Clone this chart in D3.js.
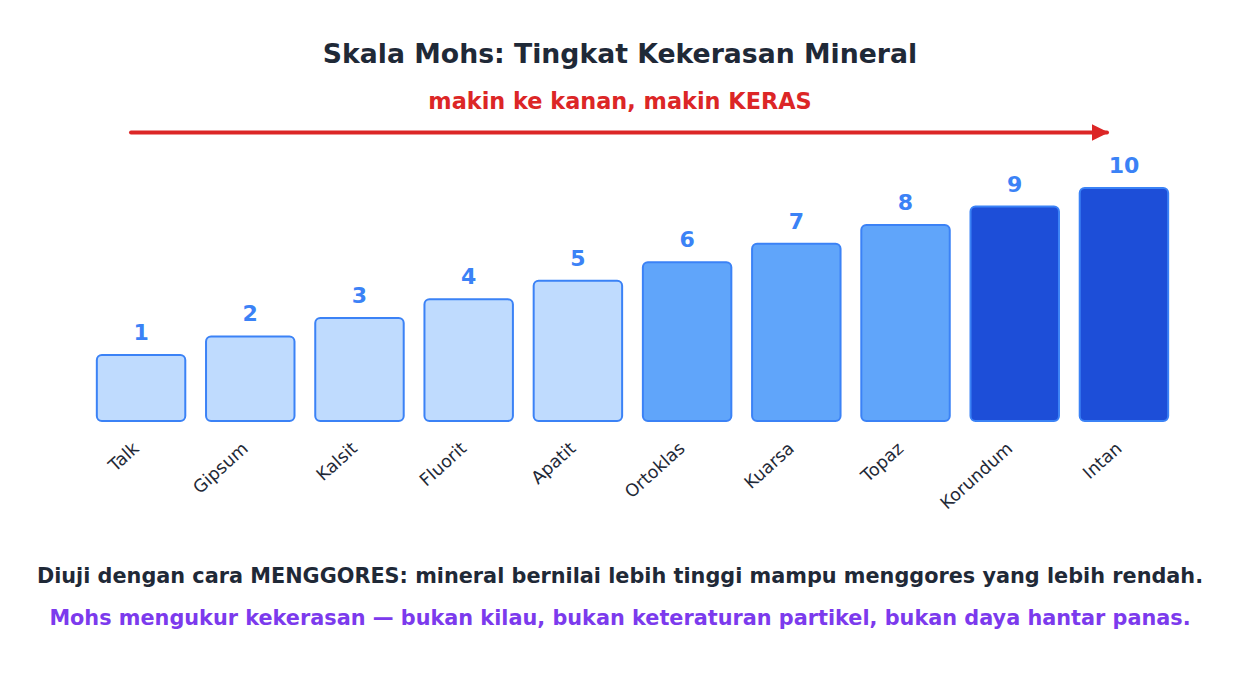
<!DOCTYPE html>
<html><head><meta charset="utf-8">
<script src="https://cdn.jsdelivr.net/npm/d3@7"></script>
<style>body{margin:0;background:#fff}svg{display:block}</style>
</head><body>
<svg id="c" width="1240" height="675"></svg>
<script>
const minerals = ["Talk","Gipsum","Kalsit","Fluorit","Apatit","Ortoklas","Kuarsa","Topaz","Korundum","Intan"];
const hardness = [1,2,3,4,5,6,7,8,9,10];
const tiers = ["soft","soft","soft","soft","soft","mid","mid","mid","hard","hard"];
const titleText = "Skala Mohs: Tingkat Kekerasan Mineral";
const subtitleText = "makin ke kanan, makin KERAS";
const note1 = "Diuji dengan cara MENGGORES: mineral bernilai lebih tinggi mampu menggores yang lebih rendah.";
const note2 = "Mohs mengukur kekerasan — bukan kilau, bukan keteraturan partikel, bukan daya hantar panas.";

const fills = {soft:"#bfdbfe", mid:"#60a5fa", hard:"#1d4ed8"};
const font = "'DejaVu Sans', sans-serif";
const svg = d3.select("#c");

const baseY = 421;
const x = d3.scaleBand().domain(minerals).range([87, 1178]).paddingInner(0.19).paddingOuter(0.09);
const y = d3.scaleLinear().domain([-2.556, 10]).range([baseY, 188]);

svg.append("text").attr("x",620).attr("y",63).attr("text-anchor","middle")
  .attr("font-family",font).attr("font-weight","bold").attr("font-size",26.7).attr("fill","#1f2937").text(titleText);
svg.append("text").attr("x",620).attr("y",109).attr("text-anchor","middle")
  .attr("font-family",font).attr("font-weight","bold").attr("font-size",22.4).attr("fill","#dc2626").text(subtitleText);

svg.append("defs").append("marker").attr("id","ah").attr("viewBox","0 0 10 10").attr("refX",9).attr("refY",5)
  .attr("markerWidth",4.2).attr("markerHeight",4.2).attr("markerUnits","strokeWidth").attr("orient","auto")
  .append("path").attr("d","M0,0 L10,5 L0,10 Z").attr("fill","#dc2626");
svg.append("line").attr("x1",131).attr("y1",132.5).attr("x2",1107).attr("y2",132.5)
  .attr("stroke","#dc2626").attr("stroke-width",4).attr("stroke-linecap","round").attr("marker-end","url(#ah)");

const g = svg.append("g");
g.selectAll("rect").data(hardness).join("rect")
  .attr("x",(d,i)=>x(minerals[i])).attr("y",d=>y(d))
  .attr("width",x.bandwidth()).attr("height",d=>baseY - y(d))
  .attr("rx",5).attr("fill",(d,i)=>fills[tiers[i]])
  .attr("stroke","#3b82f6").attr("stroke-width",2);

g.selectAll("text.v").data(hardness).join("text").attr("class","v")
  .attr("x",(d,i)=>x(minerals[i])+x.bandwidth()/2).attr("y",d=>y(d)-15)
  .attr("text-anchor","middle").attr("font-family",font).attr("font-weight","bold").attr("font-size",22)
  .attr("fill","#3b82f6").text(d=>d);

g.selectAll("text.l").data(minerals).join("text").attr("class","l")
  .attr("transform",d=>`translate(${x(d)+x.bandwidth()/2-1},${baseY+29}) rotate(-42)`)
  .attr("text-anchor","end").attr("font-family",font).attr("font-size",17.5).attr("fill","#1f2937").text(d=>d);

svg.append("text").attr("x",620).attr("y",583).attr("text-anchor","middle")
  .attr("font-family",font).attr("font-weight","bold").attr("font-size",20.8).attr("fill","#1f2937").text(note1);
svg.append("text").attr("x",620).attr("y",625).attr("text-anchor","middle")
  .attr("font-family",font).attr("font-weight","bold").attr("font-size",20.8).attr("fill","#7c3aed").text(note2);
</script>
</body></html>
